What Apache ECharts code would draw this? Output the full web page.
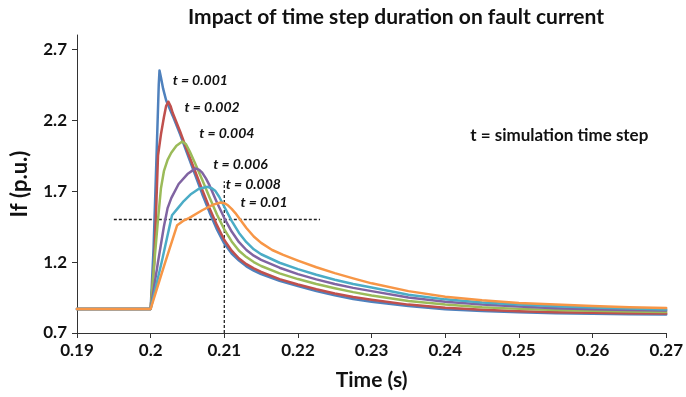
<!DOCTYPE html>
<html>
<head>
<meta charset="utf-8">
<script src="https://cdn.jsdelivr.net/npm/echarts@6/dist/echarts.min.js"></script>
<style>
  html, body { margin: 0; padding: 0; background: #fff; }
  #chart { width: 686px; height: 397px; }
</style>
</head>
<body>
<div id="chart"></div>
<script>
// Fault current If (p.u.) against time (s) for several simulation time steps.
const stepLabels = ['t = 0.001', 't = 0.002', 't = 0.004', 't = 0.006', 't = 0.008', 't = 0.01'];
const seriesColors = ['#4F81BD', '#C0504D', '#9BBB59', '#8064A2', '#4BACC6', '#F79646'];

// [time, If] pairs per time step
const step001 = [
  [0.19, 0.87], [0.2, 0.87], [0.2004, 1.3], [0.2008, 1.95], [0.2011, 2.45], [0.2012, 2.55],
  [0.2014, 2.5], [0.2017, 2.42], [0.2021, 2.34], [0.2025, 2.29], [0.203, 2.23], [0.204, 2.1],
  [0.205, 1.96], [0.206, 1.82], [0.207, 1.68], [0.208, 1.55], [0.209, 1.43], [0.21, 1.33],
  [0.211, 1.26], [0.212, 1.21], [0.213, 1.17], [0.214, 1.14], [0.215, 1.115], [0.2175, 1.068],
  [0.22, 1.03], [0.2225, 0.995], [0.225, 0.965], [0.2275, 0.94], [0.23, 0.92], [0.235, 0.89],
  [0.24, 0.868], [0.245, 0.855], [0.25, 0.846], [0.255, 0.84], [0.26, 0.836], [0.265, 0.833],
  [0.27, 0.831]
];
const step002 = [
  [0.19, 0.87], [0.2, 0.87], [0.2005, 1.2], [0.2008, 1.65], [0.201, 1.95], [0.2014, 2.1],
  [0.2018, 2.22], [0.2021, 2.3], [0.2024, 2.33], [0.2027, 2.3], [0.203, 2.25], [0.204, 2.12],
  [0.205, 1.98], [0.206, 1.845], [0.207, 1.71], [0.208, 1.58], [0.209, 1.46], [0.21, 1.355],
  [0.211, 1.28], [0.212, 1.225], [0.213, 1.185], [0.214, 1.155], [0.215, 1.13], [0.2175, 1.08],
  [0.22, 1.042], [0.2225, 1.008], [0.225, 0.978], [0.2275, 0.954], [0.23, 0.935], [0.235, 0.9],
  [0.24, 0.878], [0.245, 0.863], [0.25, 0.853], [0.255, 0.847], [0.26, 0.843], [0.265, 0.84],
  [0.27, 0.838]
];
const step004 = [
  [0.19, 0.87], [0.2, 0.87], [0.2005, 1.2], [0.201, 1.5], [0.2014, 1.72], [0.2018, 1.84],
  [0.2023, 1.92], [0.2028, 1.97], [0.2035, 2.02], [0.2043, 2.05], [0.2048, 2.03], [0.2053, 1.98],
  [0.206, 1.9], [0.207, 1.78], [0.208, 1.655], [0.209, 1.535], [0.21, 1.43], [0.211, 1.345],
  [0.212, 1.28], [0.213, 1.235], [0.214, 1.2], [0.215, 1.172], [0.2175, 1.12], [0.22, 1.08],
  [0.2225, 1.045], [0.225, 1.015], [0.2275, 0.988], [0.23, 0.965], [0.235, 0.925], [0.24, 0.9],
  [0.245, 0.882], [0.25, 0.87], [0.255, 0.862], [0.26, 0.856], [0.265, 0.852], [0.27, 0.848]
];
const step006 = [
  [0.19, 0.87], [0.2, 0.87], [0.201, 1.2], [0.2018, 1.45], [0.2023, 1.58], [0.2028, 1.65],
  [0.2038, 1.75], [0.205, 1.82], [0.2061, 1.86], [0.2066, 1.85], [0.207, 1.83], [0.2075, 1.79],
  [0.208, 1.74], [0.209, 1.62], [0.21, 1.51], [0.211, 1.415], [0.212, 1.34], [0.213, 1.285],
  [0.214, 1.245], [0.215, 1.215], [0.2175, 1.16], [0.22, 1.115], [0.2225, 1.078], [0.225, 1.045],
  [0.2275, 1.018], [0.23, 0.995], [0.235, 0.95], [0.24, 0.92], [0.245, 0.9], [0.25, 0.886],
  [0.255, 0.875], [0.26, 0.868], [0.265, 0.862], [0.27, 0.858]
];
const step008 = [
  [0.19, 0.87], [0.2, 0.87], [0.2015, 1.2], [0.2029, 1.53], [0.2037, 1.58], [0.2045, 1.63],
  [0.2055, 1.68], [0.2065, 1.715], [0.2077, 1.73], [0.2083, 1.72], [0.2088, 1.7], [0.2093, 1.66],
  [0.21, 1.59], [0.211, 1.49], [0.212, 1.405], [0.213, 1.34], [0.214, 1.29], [0.215, 1.255],
  [0.2175, 1.195], [0.22, 1.15], [0.2225, 1.11], [0.225, 1.075], [0.2275, 1.045], [0.23, 1.02],
  [0.235, 0.97], [0.24, 0.937], [0.245, 0.915], [0.25, 0.9], [0.255, 0.888], [0.26, 0.879],
  [0.265, 0.872], [0.27, 0.866]
];
const step010 = [
  [0.19, 0.87], [0.2, 0.87], [0.2018, 1.17], [0.2036, 1.46], [0.2044, 1.49], [0.2052, 1.51],
  [0.207, 1.565], [0.2085, 1.605], [0.2095, 1.62], [0.21, 1.615], [0.2105, 1.6], [0.211, 1.575],
  [0.2115, 1.545], [0.212, 1.51], [0.213, 1.44], [0.214, 1.38], [0.215, 1.335], [0.2165, 1.285],
  [0.218, 1.25], [0.22, 1.21], [0.2225, 1.163], [0.225, 1.122], [0.2275, 1.085], [0.23, 1.05],
  [0.235, 0.995], [0.24, 0.955], [0.245, 0.93], [0.25, 0.912], [0.255, 0.9], [0.26, 0.89],
  [0.265, 0.882], [0.27, 0.876]
];
const stepSeries = [step001, step002, step004, step006, step008, step010];

// dotted guide lines: If = 1.5 and t = 0.21 s
const guideLevel = [[0.195, 1.5], [0.223, 1.5]];
const guideTime = [[0.21, 0.7], [0.21, 1.77]];

const xTicks = [0.19, 0.2, 0.21, 0.22, 0.23, 0.24, 0.25, 0.26, 0.27];
const yTicks = [0.7, 1.2, 1.7, 2.2, 2.7];

const FONT = 'Lato, "Open Sans", sans-serif';
const chart = echarts.init(document.getElementById('chart'), null, { renderer: 'canvas' });

const lineSeries = stepSeries.map((d, i) => ({
  name: stepLabels[i],
  type: 'line',
  data: d,
  showSymbol: false,
  smooth: false,
  lineStyle: { color: seriesColors[i], width: 2.5, join: 'round', cap: 'round' },
  itemStyle: { color: seriesColors[i] },
  z: 3 + i
}));

const guideStyle = { color: '#222', width: 1.3, type: [3, 2] };
const guides = [guideLevel, guideTime].map((d, i) => ({
  name: 'guide' + i,
  type: 'line',
  data: d,
  showSymbol: false,
  lineStyle: guideStyle,
  z: 2
}));

// label anchors in data coordinates (time, If): left edge, vertical middle
const labelAnchors = [[0.2030, 2.476], [0.2046, 2.286], [0.2066, 2.109], [0.2085, 1.891], [0.2102, 1.748], [0.2122, 1.618]];
const noteAnchor = [0.2434, 2.095];

chart.setOption({
  animation: false,
  title: {
    text: 'Impact of time step duration on fault current',
    left: 391, top: 2, textAlign: 'center',
    textStyle: { fontFamily: FONT, fontWeight: 'bold', fontSize: 21, color: '#111' }
  },
  grid: { left: 77, right: 18, top: 35, bottom: 64 },
  xAxis: {
    type: 'value', min: 0.19, max: 0.27,
    name: 'Time (s)', nameLocation: 'middle', nameGap: 37,
    nameTextStyle: { fontFamily: FONT, fontWeight: 'bold', fontSize: 21, color: '#111' },
    axisLine: { lineStyle: { color: '#333', width: 1 } },
    axisTick: { show: true, length: 5, customValues: xTicks, lineStyle: { color: '#333' } },
    axisLabel: {
      customValues: xTicks, margin: 9,
      fontFamily: FONT, fontWeight: 'bold', fontSize: 17, color: '#111',
      formatter: v => String(Number(v.toFixed(3)))
    },
    splitLine: { show: false }
  },
  yAxis: {
    type: 'value', min: 0.7, max: 2.8,
    name: 'If (p.u.)', nameLocation: 'middle', nameGap: 46, nameRotate: 90,
    nameTextStyle: { fontFamily: FONT, fontWeight: 'bold', fontSize: 22, color: '#111' },
    axisLine: { show: true, lineStyle: { color: '#333', width: 1 } },
    axisTick: { show: true, length: 5, customValues: yTicks, lineStyle: { color: '#333' } },
    axisLabel: {
      customValues: yTicks, margin: 10,
      fontFamily: FONT, fontWeight: 'bold', fontSize: 17, color: '#111',
      formatter: v => String(Number(v.toFixed(2)))
    },
    splitLine: { show: false }
  },
  series: guides.concat(lineSeries)
});

// step labels next to each peak, plus the note on the right
const labelGraphics = labelAnchors.map((p, i) => {
  const px = chart.convertToPixel({ gridIndex: 0 }, p);
  return {
    type: 'text', x: px[0], y: px[1],
    style: {
      text: stepLabels[i], fill: '#111',
      font: 'italic bold 14px ' + FONT,
      textVerticalAlign: 'middle'
    },
    z: 20
  };
});
const notePos = chart.convertToPixel({ gridIndex: 0 }, noteAnchor);
labelGraphics.push({
  type: 'text', x: notePos[0], y: notePos[1],
  style: {
    text: 't = simulation time step', fill: '#111',
    font: 'bold 17px ' + FONT, textVerticalAlign: 'middle'
  },
  z: 20
});
chart.setOption({ graphic: labelGraphics });
</script>
</body>
</html>
